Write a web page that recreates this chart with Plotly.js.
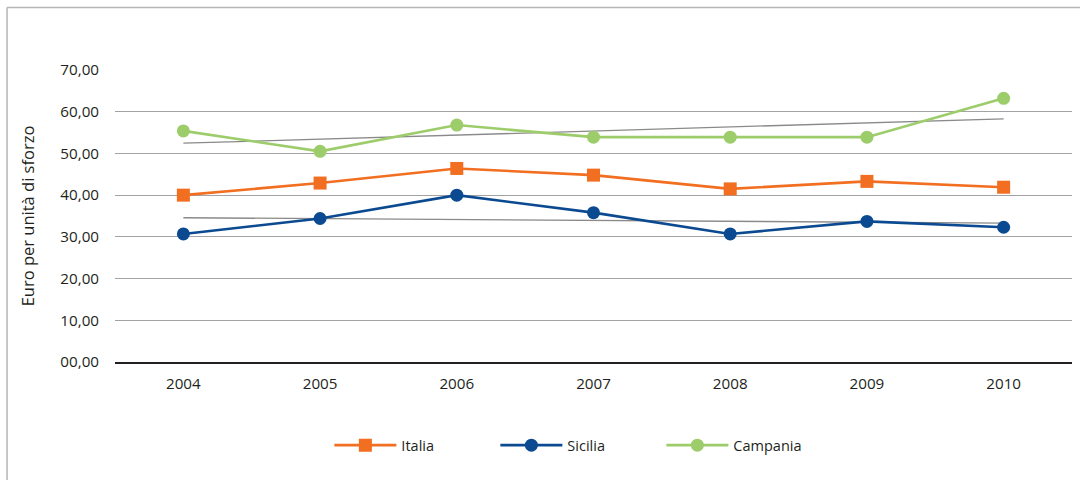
<!DOCTYPE html>
<html>
<head>
<meta charset="utf-8">
<script src="https://cdn.plot.ly/plotly-3.0.1.min.js"></script>
<style>
  html, body { margin: 0; padding: 0; background: #ffffff; }
  #chart { width: 1080px; height: 480px; }
</style>
</head>
<body>
<div id="chart"></div>
<script>
// Anni
const years = ['2004', '2005', '2006', '2007', '2008', '2009', '2010'];

// Euro per unità di sforzo
const italia   = [40.0, 42.9, 46.4, 44.8, 41.5, 43.3, 41.9];
const sicilia  = [30.7, 34.4, 40.0, 35.8, 30.7, 33.7, 32.3];
const campania = [55.4, 50.5, 56.8, 53.9, 53.9, 53.9, 63.2];

// Etichette asse Y
const yTickVals = [0, 10, 20, 30, 40, 50, 60, 70];
const yTickText = ['00,00', '10,00', '20,00', '30,00', '40,00', '50,00', '60,00', '70,00'];

const FONT = 'Open Sans, Noto Sans, sans-serif';
const TEXT_COLOR = '#231f20';
const TICK_SIZE = 15.2;
const LEGEND_SIZE = 14.5;
const TITLE_SIZE = 16.5;

// Retta dei minimi quadrati su indice anno 0..n-1, valutata agli estremi
function linearTrend(values) {
  const n = values.length;
  const xs = values.map((_, i) => i);
  const mx = xs.reduce((a, b) => a + b, 0) / n;
  const my = values.reduce((a, b) => a + b, 0) / n;
  let sxy = 0, sxx = 0;
  for (let i = 0; i < n; i++) {
    sxy += (xs[i] - mx) * (values[i] - my);
    sxx += (xs[i] - mx) * (xs[i] - mx);
  }
  const slope = sxy / sxx;
  const icpt = my - slope * mx;
  return [icpt, icpt + slope * (n - 1)];
}

const trendSicilia = linearTrend(sicilia);
const trendCampania = linearTrend(campania);
const trendX = [years[0], years[years.length - 1]];

const traces = [
  {
    x: trendX, y: trendCampania, type: 'scatter', mode: 'lines',
    line: { color: '#8a8a8a', width: 1.3 }, showlegend: false, hoverinfo: 'skip'
  },
  {
    x: trendX, y: trendSicilia, type: 'scatter', mode: 'lines',
    line: { color: '#8a8a8a', width: 1.3 }, showlegend: false, hoverinfo: 'skip'
  },
  {
    name: 'Italia', x: years, y: italia, type: 'scatter', mode: 'lines+markers',
    line: { color: '#f26e21', width: 2.6 },
    marker: { symbol: 'square', size: 13, color: '#f26e21' }
  },
  {
    name: 'Sicilia', x: years, y: sicilia, type: 'scatter', mode: 'lines+markers',
    line: { color: '#0b4a91', width: 2.6 },
    marker: { symbol: 'circle', size: 13, color: '#0b4a91' }
  },
  {
    name: 'Campania', x: years, y: campania, type: 'scatter', mode: 'lines+markers',
    line: { color: '#9dcc6a', width: 2.6 },
    marker: { symbol: 'circle', size: 13, color: '#9dcc6a' }
  }
];

const layout = {
  width: 1080,
  height: 480,
  margin: { l: 115, r: 8, t: 70, b: 118 },
  paper_bgcolor: '#ffffff',
  plot_bgcolor: '#ffffff',
  font: { family: FONT, size: TICK_SIZE, color: TEXT_COLOR },
  showlegend: true,
  legend: {
    orientation: 'h',
    x: 0.224, xanchor: 'left',
    y: -0.285, yanchor: 'middle',
    font: { family: FONT, size: LEGEND_SIZE, color: TEXT_COLOR },
    entrywidth: 89,
    itemwidth: 62,
    bgcolor: 'rgba(0,0,0,0)'
  },
  xaxis: {
    type: 'category',
    categoryorder: 'array',
    categoryarray: years,
    range: [-0.5, 6.5],
    showgrid: false,
    showline: true,
    linecolor: '#231f20',
    linewidth: 1.5,
    ticks: '',
    ticklabelstandoff: 7,
    tickfont: { family: FONT, size: TICK_SIZE, color: TEXT_COLOR },
    zeroline: false,
    fixedrange: true
  },
  yaxis: {
    range: [0, 70],
    tickvals: yTickVals,
    ticktext: yTickText,
    showgrid: true,
    gridcolor: '#a3a3a3',
    gridwidth: 1,
    zeroline: false,
    showline: false,
    ticks: '',
    ticklabelstandoff: 15,
    tickfont: { family: FONT, size: TICK_SIZE, color: TEXT_COLOR },
    title: {
      text: 'Euro per unità di sforzo',
      font: { family: FONT, size: TITLE_SIZE, color: TEXT_COLOR },
      standoff: 21
    },
    automargin: false,
    fixedrange: true
  },
  shapes: [
    // cornice: lato sinistro e lato superiore
    {
      type: 'line', xref: 'paper', yref: 'paper',
      x0: -0.1128, x1: -0.1128, y0: 1.214, y1: -0.45,
      line: { color: '#b5b5b5', width: 1.5 }
    },
    {
      type: 'line', xref: 'paper', yref: 'paper',
      x0: -0.1128, x1: 1.02, y0: 1.214, y1: 1.214,
      line: { color: '#b5b5b5', width: 1.5 }
    }
  ]
};

Plotly.newPlot('chart', traces, layout, { displayModeBar: false, staticPlot: true });
</script>
</body>
</html>
